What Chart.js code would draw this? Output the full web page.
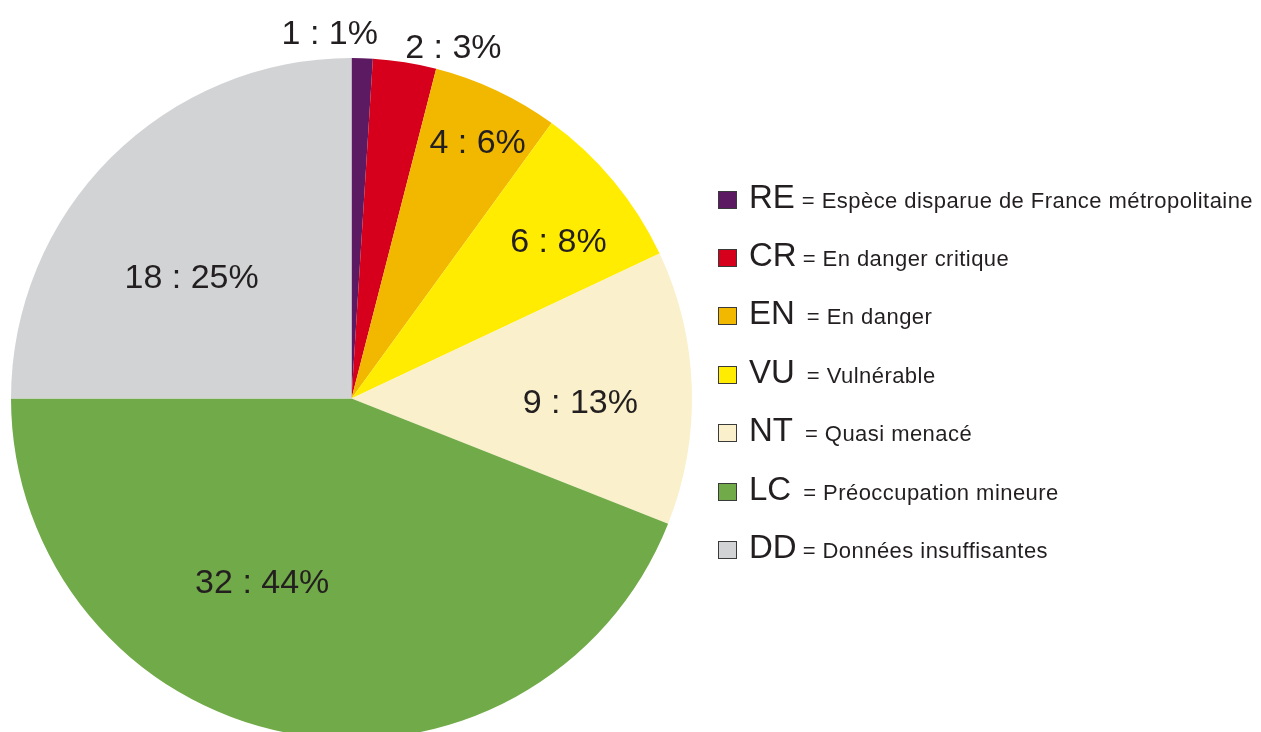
<!DOCTYPE html>
<html>
<head>
<meta charset="utf-8">
<script src="https://cdn.jsdelivr.net/npm/chart.js@4/dist/chart.umd.min.js"></script>
<style>
  html, body { margin: 0; padding: 0; background: #ffffff; overflow: hidden; width: 1261px; height: 732px; }
  #wrap { position: absolute; left: 0; top: 0; width: 1261px; height: 760px; }
  #legend { position: absolute; left: 0; top: 0; width: 1261px; height: 732px; font-family: "Liberation Sans", Arial, Helvetica, sans-serif; color: #231F20; }
  .sw { position: absolute; box-sizing: border-box; border: 1.5px solid #3a3a3a; }
  .row { position: absolute; display: flex; align-items: baseline; white-space: nowrap; }
  .code { font-size: 33px; line-height: 1; }
  .desc { font-size: 22px; line-height: 1; letter-spacing: 0.45px; }
</style>
</head>
<body>
<div id="wrap"><canvas id="c" width="1261" height="760"></canvas></div>
<div id="legend"></div>
<script>
// ---- data ----
const categories = ['RE', 'CR', 'EN', 'VU', 'NT', 'LC', 'DD'];
const descriptions = [
  '= Espèce disparue de France métropolitaine',
  '= En danger critique',
  '= En danger',
  '= Vulnérable',
  '= Quasi menacé',
  '= Préoccupation mineure',
  '= Données insuffisantes'
];
const counts = [1, 2, 4, 6, 9, 32, 18];
const percents = [1, 3, 6, 8, 13, 44, 25];

// ---- styles ----
const colors = ['#5C1A62', '#D6001C', '#F2B800', '#FFEC00', '#FAF0CB', '#71AA48', '#D2D3D5'];
const labelAngleDeg = [-3.4, 16.1, 26.1, 52.5, 90.6, 206.1, 307.4];
const labelRadiusFrac = [1.078, 1.079, 0.842, 0.766, 0.672, 0.596, 0.591];
const descGap = [7, 6, 12, 12, 12, 12, 6];
const labelFontSize = 34;
const textColor = '#231F20';

const sliceLabels = {
  id: 'sliceLabels',
  afterDatasetsDraw(chart) {
    const meta = chart.getDatasetMeta(0);
    const ctx = chart.ctx;
    ctx.save();
    ctx.font = labelFontSize + 'px "Liberation Sans", Arial, sans-serif';
    ctx.fillStyle = textColor;
    ctx.textAlign = 'center';
    ctx.textBaseline = 'alphabetic';
    meta.data.forEach((arc, i) => {
      const a = labelAngleDeg[i] * Math.PI / 180;
      const r = arc.outerRadius * labelRadiusFrac[i];
      const x = arc.x + r * Math.sin(a);
      const y = arc.y - r * Math.cos(a) + labelFontSize * 0.358;
      ctx.fillText(counts[i] + ' : ' + percents[i] + '%', x, y);
    });
    ctx.restore();
  }
};

new Chart(document.getElementById('c'), {
  type: 'pie',
  data: {
    labels: categories,
    datasets: [{
      data: percents,
      backgroundColor: colors,
      borderWidth: 0,
      hoverOffset: 0,
      offset: 0
    }]
  },
  options: {
    responsive: false,
    animation: false,
    events: [],
    rotation: 0,
    layout: { padding: { left: 11, top: 58, right: 569, bottom: 21 } },
    plugins: { legend: { display: false }, tooltip: { enabled: false } }
  },
  plugins: [sliceLabels]
});

// ---- HTML legend ----
const legend = document.getElementById('legend');
const firstBaseline = 207.5;
const rowStep = 58.4;
categories.forEach((code, i) => {
  const base = firstBaseline + i * rowStep;
  const sw = document.createElement('div');
  sw.className = 'sw';
  sw.style.left = '718px';
  sw.style.top = (base - 17) + 'px';
  sw.style.width = '19px';
  sw.style.height = '18px';
  sw.style.background = colors[i];
  legend.appendChild(sw);
  const row = document.createElement('div');
  row.className = 'row';
  row.style.left = '749px';
  row.style.top = (base - 0.8465 * 33) + 'px';
  const c = document.createElement('span');
  c.className = 'code';
  c.textContent = code;
  const d = document.createElement('span');
  d.className = 'desc';
  d.style.marginLeft = descGap[i] + 'px';
  d.textContent = descriptions[i];
  row.appendChild(c);
  row.appendChild(d);
  legend.appendChild(row);
});
</script>
</body>
</html>
